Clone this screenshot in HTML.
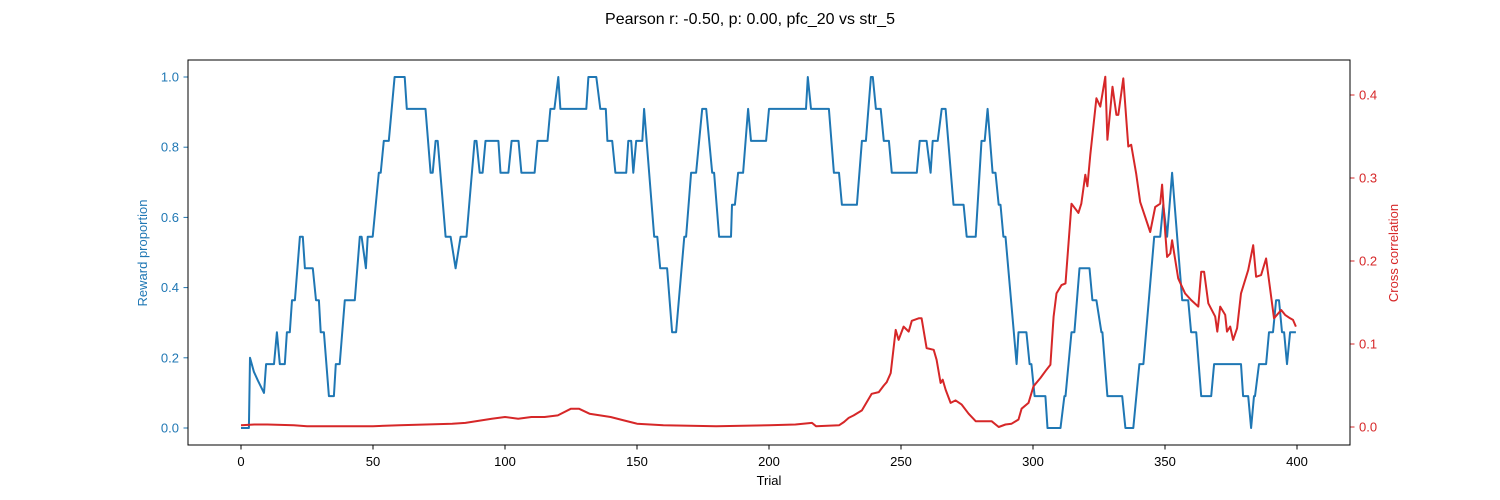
<!DOCTYPE html>
<html><head><meta charset="utf-8"><style>
body{margin:0;background:#fff;}
svg{display:block;font-family:"Liberation Sans","DejaVu Sans",sans-serif;}
</style></head><body>
<svg id="chart" width="1500" height="500" viewBox="0 0 1500 500" xmlns="http://www.w3.org/2000/svg">
<rect width="1500" height="500" fill="#fff"/>
<text x="750" y="24" text-anchor="middle" font-size="16">Pearson r: -0.50, p: 0.00, pfc_20 vs str_5</text>
<g id="plot"></g>
<rect x="188" y="60" width="1162" height="385" fill="none" stroke="#000" stroke-width="1"/>
<text x="769" y="485" text-anchor="middle" font-size="13">Trial</text>
<text transform="translate(147,253) rotate(-90)" text-anchor="middle" font-size="13" fill="#1f77b4">Reward proportion</text>
<text transform="translate(1398,253) rotate(-90)" text-anchor="middle" font-size="13" fill="#d62728">Cross correlation</text>
</svg>
<script>
const xTicks=[0,50,100,150,200,250,300,350,400];
const leftTicks=[0.0,0.2,0.4,0.6,0.8,1.0];
const rightTicks=[0.0,0.1,0.2,0.3,0.4];
const blueTrials=[0,3.0,3.4,4.9,6.4,8.7,9.5,12.5,13.6,14.7,16.6,17.4,18.5,19.3,20.4,22.3,23.4,24.2,27.2,28.4,29.5,30.2,31.4,33.3,35.2,35.9,37.4,39.3,43.1,45.0,45.7,47.3,48.0,49.9,52.2,52.9,54.1,56.0,58.2,62.0,62.8,69.9,71.8,72.6,73.7,74.5,77.5,79.4,81.3,83.2,85.4,88.5,89.2,90.4,91.5,92.6,97.5,98.3,101.3,102.5,105.1,106.2,111.2,112.3,116.1,117.2,118.7,120.2,121.0,130.8,131.6,134.6,136.1,138.2,138.8,140.6,141.8,145.9,146.7,147.8,148.6,149.7,152.0,152.7,156.5,157.7,158.8,161.4,163.3,164.8,167.9,168.6,170.5,172.4,174.7,176.2,178.5,179.2,181.1,185.6,186.0,187.1,188.3,190.2,192.1,193.2,198.9,200.0,214.0,214.7,215.9,222.7,224.6,226.5,227.6,233.3,235.2,236.7,238.6,239.3,240.5,242.3,243.5,245.4,246.5,256.0,257.1,259.7,261.2,262.0,263.9,265.4,266.9,269.9,273.7,274.9,278.3,280.5,281.7,282.8,284.7,285.8,287.0,287.7,288.8,289.6,293.8,294.5,297.5,298.7,299.4,300.6,304.7,305.5,310.4,311.9,312.3,314.6,315.7,317.6,321.4,322.5,324.0,325.9,326.3,328.2,333.8,335.0,338.0,340.3,341.8,345.9,348.2,349.3,350.8,352.7,356.5,358.8,359.9,361.8,363.7,367.5,368.6,378.8,379.6,381.5,382.6,383.7,384.1,385.6,388.3,389.4,390.9,392.1,393.2,394.3,395.1,396.2,397.4,399.6];
const blueValues=[0,0,0.2,0.16,0.135,0.1,0.182,0.182,0.273,0.182,0.182,0.273,0.273,0.364,0.364,0.545,0.545,0.455,0.455,0.364,0.364,0.273,0.273,0.091,0.091,0.182,0.182,0.364,0.364,0.545,0.545,0.455,0.545,0.545,0.727,0.727,0.818,0.818,1,1,0.909,0.909,0.727,0.727,0.818,0.818,0.545,0.545,0.455,0.545,0.545,0.818,0.818,0.727,0.727,0.818,0.818,0.727,0.727,0.818,0.818,0.727,0.727,0.818,0.818,0.909,0.909,1,0.909,0.909,1,1,0.909,0.909,0.818,0.818,0.727,0.727,0.818,0.818,0.727,0.818,0.818,0.909,0.545,0.545,0.455,0.455,0.273,0.273,0.545,0.545,0.727,0.727,0.909,0.909,0.727,0.727,0.545,0.545,0.636,0.636,0.727,0.727,0.909,0.818,0.818,0.909,0.909,1,0.909,0.909,0.727,0.727,0.636,0.636,0.818,0.818,1,1,0.909,0.909,0.818,0.818,0.727,0.727,0.818,0.818,0.727,0.818,0.818,0.909,0.909,0.636,0.636,0.545,0.545,0.818,0.818,0.909,0.727,0.727,0.636,0.636,0.545,0.545,0.182,0.273,0.273,0.182,0.182,0.091,0.091,0,0,0.091,0.091,0.273,0.273,0.455,0.455,0.364,0.364,0.273,0.273,0.091,0.091,0,0,0.182,0.182,0.545,0.545,0.636,0.545,0.727,0.364,0.364,0.273,0.273,0.091,0.091,0.182,0.182,0.091,0.091,0,0.091,0.091,0.182,0.182,0.273,0.273,0.364,0.364,0.273,0.273,0.182,0.273,0.273];
const redTrials=[0,5,10,20,25,50,60,70,80,85,95,100,105,110,115,120,125,128,132,140,145,150,160,180,200,210,216.3,217.8,226.5,228.4,230.2,232.1,235.2,238.9,241.6,243.5,244.6,246.1,248.0,249.1,251.0,252.9,254.1,256.7,257.8,259.7,262.4,263.5,265.0,265.8,266.9,268.8,270.7,273.0,275.6,278.3,284.3,287.0,289.6,291.9,294.5,295.7,298.3,300.2,302.8,305.1,306.6,307.8,308.9,310.8,312.3,314.6,317.2,318.3,319.8,320.6,321.7,324.0,325.5,327.4,328.2,330.1,331.6,332.3,334.2,336.1,337.2,339.1,340.6,342.5,344.4,346.3,348.2,348.9,350.1,350.8,352.0,352.7,355.0,357.6,359.9,362.6,363.7,364.8,366.4,369.0,369.8,370.9,372.8,373.5,374.7,375.8,377.3,378.8,381.5,383.4,384.5,386.4,388.3,391.3,394.0,395.5,397.4,398.5,399.6];
const redValues=[0.002,0.003,0.003,0.002,0.001,0.001,0.002,0.003,0.004,0.005,0.01,0.012,0.01,0.012,0.012,0.014,0.022,0.022,0.016,0.012,0.008,0.004,0.002,0.001,0.002,0.003,0.005,0.001,0.002,0.006,0.011,0.014,0.020,0.040,0.042,0.050,0.054,0.065,0.117,0.105,0.121,0.115,0.128,0.131,0.131,0.095,0.093,0.081,0.053,0.057,0.045,0.029,0.032,0.027,0.016,0.007,0.007,0,0.003,0.004,0.009,0.022,0.029,0.049,0.059,0.069,0.075,0.133,0.161,0.171,0.173,0.269,0.258,0.269,0.304,0.290,0.328,0.396,0.386,0.422,0.346,0.410,0.376,0.376,0.420,0.338,0.340,0.305,0.271,0.253,0.235,0.265,0.269,0.292,0.233,0.205,0.209,0.225,0.179,0.161,0.153,0.145,0.187,0.187,0.149,0.133,0.115,0.145,0.135,0.115,0.121,0.105,0.119,0.161,0.189,0.219,0.181,0.183,0.203,0.131,0.141,0.135,0.131,0.129,0.121];

const NS='http://www.w3.org/2000/svg';
const plot=document.getElementById('plot');
function X(t){return 241+t*2.64;}
function YL(v){return 428-v*351;}
function YR(v){return 427-v*830;}
function mk(tag,attrs){const e=document.createElementNS(NS,tag);for(const k in attrs)e.setAttribute(k,attrs[k]);plot.appendChild(e);return e;}

xTicks.forEach(t=>{
  const l=mk('line',{x1:X(t),x2:X(t),y1:445,y2:449.5,stroke:'#000'});
  
  
  const tx=mk('text',{x:X(t),y:466,'text-anchor':'middle','font-size':13});
  tx.textContent=String(t);
  
  
});
leftTicks.forEach(v=>{
  const l=mk('line',{x1:183.5,x2:188,y1:YL(v),y2:YL(v),stroke:'#1f77b4'});
  
  
  const tx=mk('text',{x:179,y:YL(v)+4.5,'text-anchor':'end','font-size':13,fill:'#1f77b4'});
  tx.textContent=v.toFixed(1);
  
  
});
rightTicks.forEach(v=>{
  const l=mk('line',{x1:1350,x2:1354.5,y1:YR(v),y2:YR(v),stroke:'#d62728'});
  
  
  const tx=mk('text',{x:1359,y:YR(v)+4.5,'text-anchor':'start','font-size':13,fill:'#d62728'});
  tx.textContent=v.toFixed(1);
  
  
});
const bp=blueTrials.map((t,i)=>X(t).toFixed(1)+','+YL(blueValues[i]).toFixed(1)).join(' ');
const blue=mk('polyline',{points:bp,fill:'none',stroke:'#1f77b4','stroke-width':2,'stroke-linejoin':'round'});


const rp=redTrials.map((t,i)=>X(t).toFixed(1)+','+YR(redValues[i]).toFixed(1)).join(' ');
const red=mk('polyline',{points:rp,fill:'none',stroke:'#d62728','stroke-width':2,'stroke-linejoin':'round'});


</script>
</body></html>
